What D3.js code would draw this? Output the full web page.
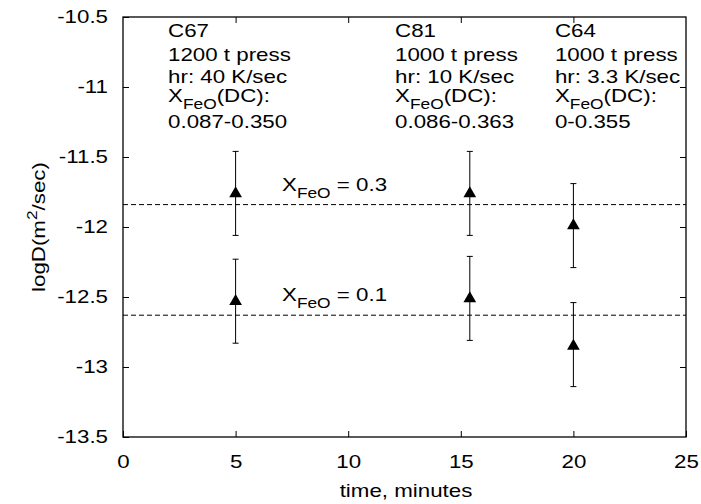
<!DOCTYPE html>
<html>
<head>
<meta charset="utf-8">
<script src="https://cdn.jsdelivr.net/npm/d3@7"></script>
<style>
  body { margin: 0; background: #fff; }
  text { font-family: "Liberation Sans", Arial, sans-serif; fill: #000; }
</style>
</head>
<body>
<div id="chart"></div>
<script>
// data
const times = [5, 5, 15.4, 15.4, 20, 20]
const logD = [-11.75, -12.52, -11.75, -12.5, -11.98, -12.84]
const errLow = [-12.06, -12.83, -12.06, -12.81, -12.29, -13.14]
const errHigh = [-11.46, -12.23, -11.46, -12.21, -11.69, -12.54]

const refLevels = [-11.84, -12.63]
const refNames = ["0.3", "0.1"]

const xTicks = [0, 5, 10, 15, 20, 25]
const yTicks = [-10.5, -11, -11.5, -12, -12.5, -13, -13.5]

const runNames = ["C67", "C81", "C64"]
const runPress = ["1200 t press", "1000 t press", "1000 t press"]
const runRate = ["hr: 40 K/sec", "hr: 10 K/sec", "hr: 3.3 K/sec"]
const runRange = ["0.087-0.350", "0.086-0.363", "0-0.355"]
// where each run's note starts, in minutes
const runX = [2.0, 12.08, 19.18]

const width = 701, height = 504
const margin = { top: 17, right: 15, bottom: 67, left: 123 }
const fs = 18, stretch = 1.24   // the original lettering is wide

const svg = d3.select("#chart")
    .append("svg")
    .attr("width", width)
    .attr("height", height)

const x = d3.scaleLinear().domain([0, 25]).range([margin.left, width - margin.right])
const y = d3.scaleLinear().domain([-13.5, -10.5]).range([height - margin.bottom, margin.top])

// move x/y into a transform so the glyphs can be widened
function widen(sel) {
    sel.each(function () {
        const t = d3.select(this)
        const tx = +t.attr("x") || 0, ty = +t.attr("y") || 0
        t.attr("x", 0).attr("y", 0)
            .attr("transform", "translate(" + tx + "," + ty + ") scale(" + stretch + ",1)")
    })
}

// ticks pointing inward on all four sides
svg.append("g")
    .attr("transform", "translate(0," + y.range()[0] + ")")
    .call(d3.axisBottom(x).tickValues(xTicks).tickSize(-6).tickPadding(18).tickFormat(d3.format("d")))
    .call(g => g.select(".domain").remove())
svg.append("g")
    .attr("transform", "translate(0," + y.range()[1] + ")")
    .call(d3.axisTop(x).tickValues(xTicks.slice(1, -1)).tickSize(-6).tickFormat(""))
    .call(g => g.select(".domain").remove())
svg.append("g")
    .attr("transform", "translate(" + x.range()[0] + ",0)")
    .call(d3.axisLeft(y).tickValues(yTicks).tickSize(-6).tickPadding(15).tickFormat(d => d))
    .call(g => g.select(".domain").remove())
svg.append("g")
    .attr("transform", "translate(" + x.range()[1] + ",0)")
    .call(d3.axisRight(y).tickValues(yTicks.slice(1, -1)).tickSize(-6).tickFormat(""))
    .call(g => g.select(".domain").remove())

svg.selectAll(".tick text").style("font-size", fs + "px").call(widen)
svg.selectAll(".tick line").attr("stroke", "#000")

svg.append("rect")
    .attr("x", x.range()[0])
    .attr("y", y.range()[1])
    .attr("width", x.range()[1] - x.range()[0])
    .attr("height", y.range()[0] - y.range()[1])
    .attr("fill", "none")
    .attr("stroke", "#000")
    .attr("stroke-width", 1.3)

// dashed reference levels
svg.selectAll(".ref")
    .data(refLevels)
    .enter()
    .append("line")
    .attr("x1", x.range()[0])
    .attr("x2", x.range()[1])
    .attr("y1", d => y(d))
    .attr("y2", d => y(d))
    .attr("stroke", "#000")
    .attr("stroke-dasharray", "5,3")

const refLabel = svg.selectAll(".refLabel")
    .data(refLevels)
    .enter()
    .append("text")
    .attr("x", x(7.06))
    .attr("y", d => y(d) - 14)
    .style("font-size", fs + "px")
refLabel.append("tspan").text("X")
refLabel.append("tspan").attr("dy", 7).style("font-size", "14px").text("FeO")
refLabel.append("tspan").attr("dy", -7).text((d, i) => " = " + refNames[i])
refLabel.call(widen)

// error bars
const pts = times.map((t, i) => ({ t: t, v: logD[i], lo: errLow[i], hi: errHigh[i] }))
const bars = svg.selectAll(".err").data(pts).enter().append("g")
bars.append("line")
    .attr("x1", d => x(d.t)).attr("x2", d => x(d.t))
    .attr("y1", d => y(d.lo)).attr("y2", d => y(d.hi))
    .attr("stroke", "#000")
bars.append("line")
    .attr("x1", d => x(d.t) - 3).attr("x2", d => x(d.t) + 3)
    .attr("y1", d => y(d.lo)).attr("y2", d => y(d.lo))
    .attr("stroke", "#000")
bars.append("line")
    .attr("x1", d => x(d.t) - 3).attr("x2", d => x(d.t) + 3)
    .attr("y1", d => y(d.hi)).attr("y2", d => y(d.hi))
    .attr("stroke", "#000")

svg.selectAll(".pt")
    .data(pts)
    .enter()
    .append("path")
    .attr("d", d3.symbol().type(d3.symbolTriangle).size(70))
    .attr("transform", d => "translate(" + x(d.t) + "," + (y(d.v) + 1.5) + ")")
    .attr("fill", "#000")

// run annotations
runNames.forEach(function (name, i) {
    const t = svg.append("text")
        .attr("transform", "translate(" + x(runX[i]) + ",37) scale(" + stretch + ",1)")
        .style("font-size", fs + "px")
    t.append("tspan").attr("x", 0).attr("y", 0).text(name)
    t.append("tspan").attr("x", 0).attr("y", 24).text(runPress[i])
    t.append("tspan").attr("x", 0).attr("y", 46.5).text(runRate[i])
    t.append("tspan").attr("x", 0).attr("y", 65).text("X")
    t.append("tspan").attr("dy", 7).style("font-size", "14px").text("FeO")
    t.append("tspan").attr("dy", -7).text("(DC):")
    t.append("tspan").attr("x", 0).attr("y", 91).text(runRange[i])
})

// axis titles
svg.append("text")
    .attr("x", 406)
    .attr("y", 497)
    .attr("text-anchor", "middle")
    .style("font-size", fs + "px")
    .text("time, minutes")
    .call(widen)

const yt = svg.append("text")
    .attr("transform", "translate(45,227) rotate(-90) scale(" + stretch + ",1)")
    .attr("text-anchor", "middle")
    .style("font-size", fs + "px")
yt.append("tspan").text("logD(m")
yt.append("tspan").attr("dy", -8).style("font-size", "14px").text("2")
yt.append("tspan").attr("dy", 8).text("/sec)")
</script>
</body>
</html>
